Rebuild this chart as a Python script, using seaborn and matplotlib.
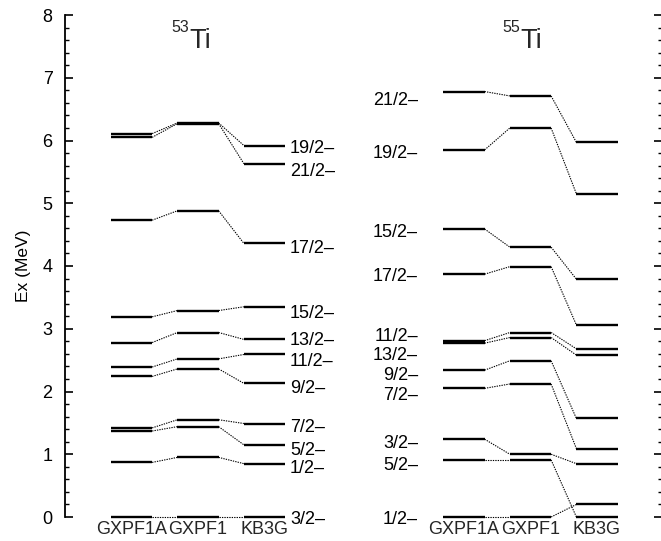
import matplotlib
matplotlib.use("Agg")
import matplotlib.pyplot as plt
import seaborn as sns
import pandas as pd
import numpy as np
from matplotlib.ticker import MultipleLocator

# ---------------- data ----------------
models = ["GXPF1A", "GXPF1", "KB3G"]

ti53_states = ["3/2–", "1/2–", "5/2–", "7/2–", "9/2–", "11/2–", "13/2–",
               "15/2–", "17/2–", "21/2–", "19/2–"]
ti53_gxpf1a = [0.00, 0.87, 1.37, 1.42, 2.24, 2.39, 2.78, 3.19, 4.73, 6.05, 6.11]
ti53_gxpf1 = [0.00, 0.95, 1.44, 1.55, 2.36, 2.52, 2.94, 3.29, 4.88, 6.27, 6.28]
ti53_kb3g = [0.00, 0.85, 1.15, 1.49, 2.13, 2.59, 2.83, 3.35, 4.36, 5.63, 5.92]
ti53_label_y = [0.00, 0.80, 1.10, 1.46, 2.08, 2.51, 2.84, 3.27, 4.31, 5.54, 5.91]

ti55_states = ["1/2–", "5/2–", "3/2–", "7/2–", "9/2–", "13/2–", "11/2–",
               "17/2–", "15/2–", "19/2–", "21/2–"]
ti55_gxpf1a = [0.00, 0.91, 1.24, 2.05, 2.34, 2.77, 2.81, 3.87, 4.59, 5.85, 6.78]
ti55_gxpf1 = [0.00, 0.91, 1.00, 2.12, 2.49, 2.86, 2.94, 3.99, 4.30, 6.20, 6.71]
ti55_kb3g = [0.20, 0.00, 0.85, 1.09, 1.57, 2.58, 2.68, 3.06, 3.79, 5.15, 5.97]
ti55_label_y = [0.00, 0.86, 1.20, 1.97, 2.29, 2.61, 2.91, 3.87, 4.57, 5.82, 6.67]

panel_titles = ["53", "55"]
y_ticks = [0, 1, 2, 3, 4, 5, 6, 7, 8]
y_label = "Ex (MeV)"

# ---------------- layout ----------------
FONT = ["Liberation Sans", "DejaVu Sans"]
sns.set_theme(style="ticks")
plt.rcParams["font.family"] = FONT

W, H = 661, 541
fig = plt.figure(figsize=(W / 100, H / 100), dpi=100)
x0_px, x1_px, y0_px, y1_px = 65, 662, 517, 15
ax = fig.add_axes([x0_px / W, 1 - y0_px / H, (x1_px - x0_px) / W, (y0_px - y1_px) / H])

col_step = 66.5
xmax = (x1_px - x0_px) / col_step
half = 0.31
panel_cols = [[1, 2, 3], [6, 7, 8]]

panels = [
    (ti53_states, [ti53_gxpf1a, ti53_gxpf1, ti53_kb3g], ti53_label_y),
    (ti55_states, [ti55_gxpf1a, ti55_gxpf1, ti55_kb3g], ti55_label_y),
]

lev_rows, con_rows = [], []
seg = 0
for p, (states, vals, _) in enumerate(panels):
    cols = panel_cols[p]
    for s in range(len(states)):
        for m in range(3):
            e = vals[m][s]
            lev_rows += [dict(seg=seg, x=cols[m] - half, E=e), dict(seg=seg, x=cols[m] + half, E=e)]
            seg += 1
            if m < 2:
                e2 = vals[m + 1][s]
                con_rows += [dict(seg=seg, x=cols[m] + half, E=e), dict(seg=seg, x=cols[m + 1] - half, E=e2)]
                seg += 1

lev = pd.DataFrame(lev_rows)
con = pd.DataFrame(con_rows)

sns.lineplot(data=con, x="x", y="E", units="seg", estimator=None, sort=False,
             color="black", lw=0.8, linestyle=(0, (1.2, 1.0)), ax=ax, legend=False)
sns.lineplot(data=lev, x="x", y="E", units="seg", estimator=None, sort=False,
             color="black", lw=1.7, ax=ax, legend=False)
for ln in ax.lines:
    ln.set_clip_on(False)
    ln.set_solid_capstyle("butt")

# level labels
lab_fs = 13
for p, (states, vals, label_y) in enumerate(panels):
    if p == 0:
        xl, ha = (290 - x0_px) / col_step, "left"
    else:
        xl, ha = (418 - x0_px) / col_step, "right"
    for st, ly in zip(states, label_y):
        ax.annotate(st, (xl, ly), xytext=(0, -4.7), textcoords="offset points",
                    ha=ha, va="baseline", fontsize=lab_fs, color="black")

# panel titles
for p, mass in enumerate(panel_titles):
    tx = ((189 if p == 0 else 520) - x0_px) / col_step
    ax.text(tx, (y0_px - 47.7) / 62.75, "Ti", fontsize=19.5, ha="left", va="baseline")
    ax.text(tx, (y0_px - 32.3) / 62.75, mass, fontsize=11.5, ha="right", va="baseline")

# axes
ax.set_xlim(0, xmax)
ax.set_ylim(0, 8)
ax.set_xticks(panel_cols[0] + panel_cols[1])
ax.set_xticklabels(models + models, fontsize=13)
ax.set_yticks(y_ticks)
ax.set_yticklabels([str(t) for t in y_ticks], fontsize=13)
ax.yaxis.set_minor_locator(MultipleLocator(0.2))
ax.tick_params(axis="x", length=0, pad=3)
ax.tick_params(axis="y", which="major", direction="in", length=6, width=1.2,
               left=True, right=True, pad=9, color="black", labelcolor="black")
ax.tick_params(axis="y", which="minor", direction="in", length=3, width=1.0,
               left=True, right=True, color="black")
ax.set_xlabel("")
ax.set_ylabel(y_label, fontsize=12.5, color="black")
ax.yaxis.set_label_coords(-(x0_px - 31) / (x1_px - x0_px), 0.5)

for side in ["top", "bottom", "right"]:
    ax.spines[side].set_visible(False)
ax.spines["left"].set_linewidth(1.3)
ax.spines["left"].set_color("black")
ax.set_facecolor("white")
fig.patch.set_facecolor("white")

fig.savefig("out.png", dpi=100)
